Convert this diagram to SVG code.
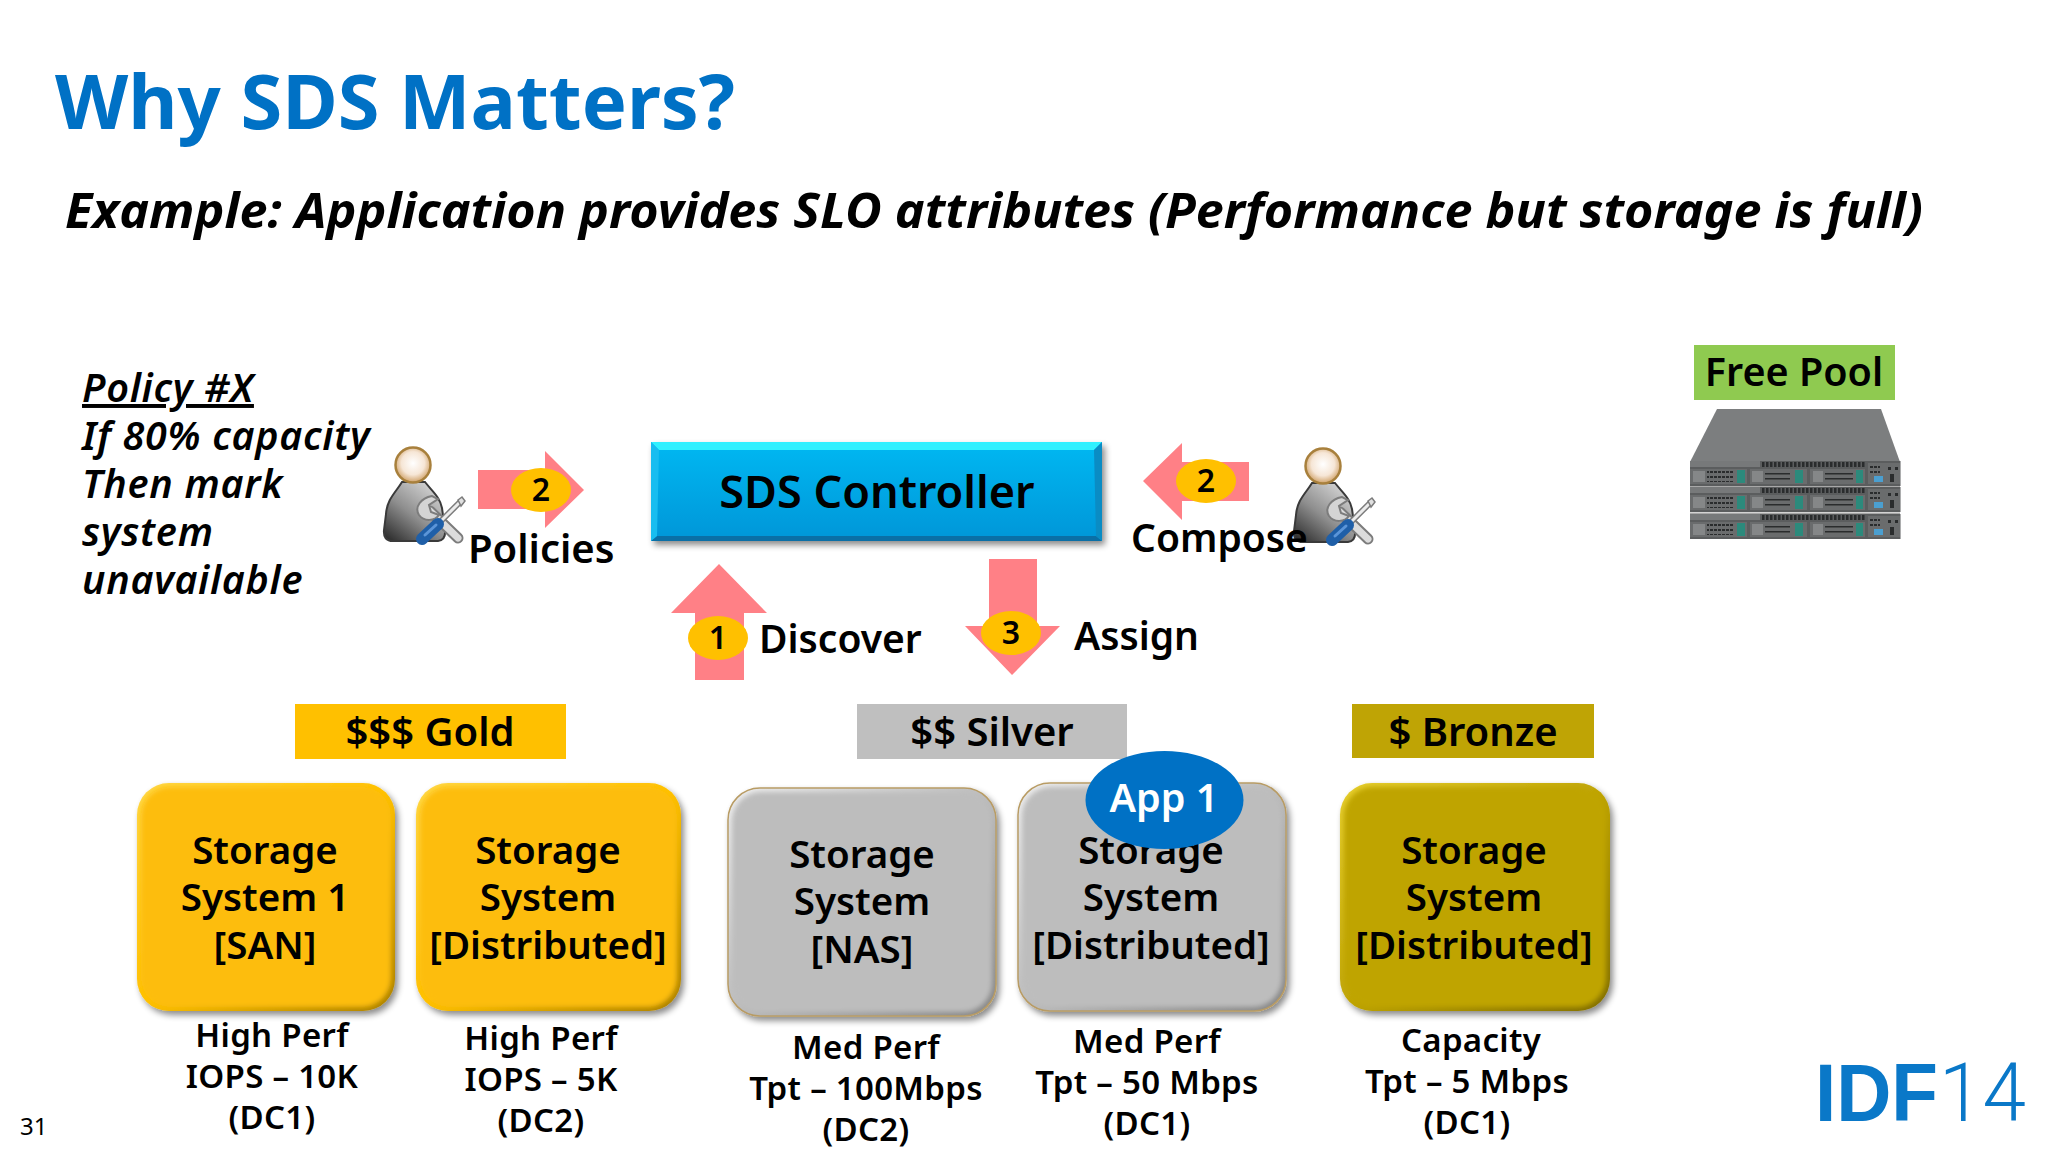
<svg xmlns="http://www.w3.org/2000/svg" width="2048" height="1152" viewBox="0 0 2048 1152">
<style>
text{font-family:"Noto Sans","Open Sans","Liberation Sans",sans-serif;font-weight:600;fill:#000}
.m{text-anchor:middle}
.lbl{font-size:39px}
.tier{font-size:40px;text-anchor:middle}
.box{font-size:38.500px;text-anchor:middle}
.sub{font-size:33px;letter-spacing:.3px;text-anchor:middle}
.pol{font-size:39.500px;letter-spacing:.7px;font-style:italic}
.bd{font-size:32px;text-anchor:middle}
.arrow{fill:#ff8086}
.badge{fill:#ffc000}
</style>
<defs>
<filter id="sh" x="-10%" y="-10%" width="125%" height="125%"><feDropShadow dx="3" dy="4" stdDeviation="3" flood-color="#000" flood-opacity=".45"/></filter>
<filter id="bl" x="-5%" y="-5%" width="110%" height="110%"><feGaussianBlur stdDeviation="2.5"/></filter>
<linearGradient id="gGold" x1="0" y1="0" x2="1" y2="1"><stop offset="0" stop-color="#ffd84a"/><stop offset=".5" stop-color="#ffc000"/><stop offset="1" stop-color="#a87e00"/></linearGradient>
<linearGradient id="gGrey" x1="0" y1="0" x2="1" y2="1"><stop offset="0" stop-color="#efefef"/><stop offset=".5" stop-color="#bcbcbc"/><stop offset="1" stop-color="#858585"/></linearGradient>
<linearGradient id="gBronze" x1="0" y1="0" x2="1" y2="1"><stop offset="0" stop-color="#e8d030"/><stop offset=".5" stop-color="#bfa405"/><stop offset="1" stop-color="#7f6c00"/></linearGradient>
<linearGradient id="gSds" x1="0" y1="0" x2="0" y2="1"><stop offset="0" stop-color="#00b8f2"/><stop offset="1" stop-color="#0096d8"/></linearGradient>
<radialGradient id="gHead" cx=".5" cy=".45" r=".55"><stop offset="0" stop-color="#fff"/><stop offset=".6" stop-color="#f6e6d6"/><stop offset="1" stop-color="#cfa066"/></radialGradient>
<linearGradient id="gBody" x1=".9" y1="0" x2=".1" y2="1"><stop offset="0" stop-color="#e0e0e0"/><stop offset=".55" stop-color="#8e8e8e"/><stop offset="1" stop-color="#2e2e2e"/></linearGradient>
<pattern id="vent" width="4" height="4" patternUnits="userSpaceOnUse"><rect width="2.500" height="4" fill="#2a2c2d"/></pattern>
<pattern id="grid" width="4" height="5" patternUnits="userSpaceOnUse"><rect width="3" height="2" fill="#2a2c2d"/></pattern>
<g id="person">
<path d="M402 482C396 492 387 499 386 514L384 530Q383 541 393 541L438 541Q446 540 445 530L442 508C440 497 432 491 425 482Z" fill="url(#gBody)" stroke="#fff" stroke-width="5"/>
<path d="M402 482C396 492 387 499 386 514L384 530Q383 541 393 541L438 541Q446 540 445 530L442 508C440 497 432 491 425 482Z" fill="url(#gBody)" stroke="#3a3a3a" stroke-width="2"/>
<ellipse cx="413" cy="465" rx="17.500" ry="17.500" fill="url(#gHead)" stroke="#a8803c" stroke-width="2.500"/>
<path d="M430 511L458 538" stroke="#7c7c7c" stroke-width="11" stroke-linecap="round" fill="none"/>
<path d="M430 511L458 538" stroke="#dcdcdc" stroke-width="7" stroke-linecap="round" fill="none"/>
<path d="M432 496C421 498 414 507 419 515C424 522 435 521 439 515L431 512L429 505L438 499Z" fill="#d4d4d4" stroke="#7c7c7c" stroke-width="2"/>
<path d="M460 502L440 522" stroke="#7c7c7c" stroke-width="6" fill="none"/>
<path d="M460 502L440 522" stroke="#ececec" stroke-width="3" fill="none"/>
<path d="M458 500L462 497L465 501L461 506Z" fill="#e0e0e0" stroke="#7c7c7c" stroke-width="1.500"/>
<path d="M438 524L422 539" stroke="#1f5fa8" stroke-width="12" stroke-linecap="round" fill="none"/>
<path d="M436 525L425 535" stroke="#5b95d8" stroke-width="3" stroke-linecap="round" fill="none"/>
</g>
<g id="unit">
<rect x="0" y="0" width="210.500" height="25" fill="#5b5d5e"/>
<rect x="0" y="0" width="70" height="6" fill="#77797a"/>
<rect x="72" y="1" width="103" height="5" fill="url(#vent)"/>
<rect x="0" y="8" width="57" height="15" fill="#6a6c6d"/>
<rect x="3" y="10" width="12" height="11" fill="#858788"/>
<rect x="17" y="10" width="26" height="11" fill="url(#grid)"/>
<rect x="47" y="9" width="8" height="13" fill="#2c8a7c"/>
<rect x="60" y="8" width="57" height="15" fill="#6a6c6d"/>
<rect x="62" y="10" width="11" height="11" fill="#858788"/>
<rect x="75" y="12" width="25" height="1.500" fill="#2a2c2d"/><rect x="75" y="17" width="25" height="1.500" fill="#2a2c2d"/>
<rect x="105" y="9" width="8" height="13" fill="#2c8a7c"/>
<rect x="120" y="8" width="55" height="15" fill="#6a6c6d"/>
<rect x="123" y="10" width="10" height="11" fill="#858788"/>
<rect x="135" y="12" width="28" height="1.500" fill="#2a2c2d"/><rect x="135" y="17" width="28" height="1.500" fill="#2a2c2d"/>
<rect x="166" y="9" width="7" height="13" fill="#2c8a7c"/>
<rect x="178" y="2" width="32" height="21" fill="#6a6c6d"/>
<rect x="180" y="4" width="10" height="8" fill="url(#grid)"/>
<rect x="184" y="15" width="9" height="6" fill="#4b9fd0"/>
<rect x="198" y="6" width="3" height="3" fill="#2a2c2d"/><rect x="205" y="6" width="3" height="3" fill="#2a2c2d"/><rect x="200" y="13" width="4" height="8" fill="#2a2c2d"/>
</g>
</defs>
<rect width="2048" height="1152" fill="#fff"/>

<g id="header">
<text x="55" y="129" textLength="680" lengthAdjust="spacingAndGlyphs" style="font-size:76px;font-weight:700;fill:#0071c5">Why SDS Matters?</text>
<text x="65" y="228" textLength="1858" lengthAdjust="spacingAndGlyphs" style="font-size:48.500px;font-weight:700;font-style:italic">Example: Application provides SLO attributes (Performance but storage is full)</text>
</g>

<g id="policy">
<text class="pol" x="82" y="402"><tspan text-decoration="underline">Policy #X</tspan><tspan x="82" dy="48">If 80% capacity</tspan><tspan x="82" dy="48">Then mark</tspan><tspan x="82" dy="48">system</tspan><tspan x="82" dy="48">unavailable</tspan></text>
</g>

<g id="connectors">
<polygon class="arrow" points="478,470 545,470 545,451 584,490 545,528 545,509 478,509"/>
<polygon class="arrow" points="1249,462 1182,462 1182,443 1143,481 1182,520 1182,501 1249,501"/>
<polygon class="arrow" points="719,564 767,613 744,613 744,680 695,680 695,613 671,613"/>
<polygon class="arrow" points="989,559 1037,559 1037,626 1060,626 1012,675 965,626 989,626"/>
</g>

<g id="admin-left"><use href="#person"/></g>
<g id="admin-right"><use href="#person" x="910" y="1"/></g>

<g id="badge-policies"><ellipse class="badge" cx="541" cy="490" rx="30" ry="22"/><text class="bd" x="541" y="501">2</text></g>
<g id="badge-compose"><ellipse class="badge" cx="1206" cy="481" rx="30" ry="22"/><text class="bd" x="1206" y="492">2</text></g>
<g id="badge-discover"><ellipse class="badge" cx="718" cy="638" rx="30" ry="22"/><text class="bd" x="718" y="649">1</text></g>
<g id="badge-assign"><ellipse class="badge" cx="1011" cy="633" rx="30" ry="22"/><text class="bd" x="1011" y="644">3</text></g>

<g id="labels">
<text x="468" y="563" style="font-size:40px">Policies</text>
<text class="lbl" x="1131" y="552">Compose</text>
<text class="lbl" x="759" y="653">Discover</text>
<text class="lbl" x="1074" y="650">Assign</text>
</g>

<g id="sds-controller">
<rect x="651" y="442" width="451" height="99" fill="url(#gSds)" filter="url(#sh)"/>
<polygon points="651,442 1102,442 1094,450 659,450" fill="#30f0ff"/>
<polygon points="651,541 1102,541 1096,536 657,536" fill="#0a6fa6"/>
<polygon points="651,442 659,450 657,536 651,541" fill="#18bdf0"/>
<polygon points="1102,442 1094,450 1096,536 1102,541" fill="#0a8cc4"/>
<text class="m" x="877" y="508" style="font-size:45px">SDS Controller</text>
</g>

<g id="free-pool">
<rect x="1694" y="345" width="201" height="55" fill="#8fca50"/>
<text class="m" x="1794" y="386" style="font-size:39.500px">Free Pool</text>
<polygon points="1717,409 1881,409 1900,462 1690,462" fill="#7c7e7f"/>
<use href="#unit" x="1690" y="461"/>
<rect x="1690" y="486" width="210" height="1.500" fill="#a8a8a8"/>
<use href="#unit" x="1690" y="487"/>
<rect x="1690" y="512.500" width="210" height="1.500" fill="#a8a8a8"/>
<use href="#unit" x="1690" y="514"/>
</g>

<g id="tier-gold"><rect x="295" y="704" width="271" height="55" fill="#ffc000"/><text class="tier" x="430" y="746">$$$ Gold</text></g>
<g id="tier-silver"><rect x="857" y="704" width="270" height="55" fill="#bfbfbf"/><text class="tier" x="992" y="746">$$ Silver</text></g>
<g id="tier-bronze"><rect x="1352" y="704" width="242" height="54" fill="#bfa405"/><text class="tier" x="1473" y="746">$ Bronze</text></g>

<g id="storage-san">
<rect x="137" y="783" width="258" height="228" rx="32" fill="url(#gGold)" filter="url(#sh)"/>
<rect x="141" y="787" width="250" height="220" rx="29" fill="#fdbd0a" filter="url(#bl)"/>
<text class="box" x="265" y="864"><tspan x="265">Storage</tspan><tspan x="265" dy="47">System 1</tspan><tspan x="265" dy="48">[SAN]</tspan></text>
<text class="sub" y="1047"><tspan x="272">High Perf</tspan><tspan x="272" dy="41">IOPS – 10K</tspan><tspan x="272" dy="41">(DC1)</tspan></text>
</g>
<g id="storage-dist-gold">
<rect x="416" y="783" width="265" height="228" rx="32" fill="url(#gGold)" filter="url(#sh)"/>
<rect x="420" y="787" width="257" height="220" rx="29" fill="#fdbd0a" filter="url(#bl)"/>
<text class="box" y="864"><tspan x="548">Storage</tspan><tspan x="548" dy="47">System</tspan><tspan x="548" dy="48">[Distributed]</tspan></text>
<text class="sub" y="1050"><tspan x="541">High Perf</tspan><tspan x="541" dy="41">IOPS – 5K</tspan><tspan x="541" dy="41">(DC2)</tspan></text>
</g>
<g id="storage-nas">
<rect x="728" y="788" width="268" height="228" rx="32" fill="url(#gGrey)" stroke="#b89a60" stroke-width="1.500" filter="url(#sh)"/>
<rect x="732" y="792" width="260" height="220" rx="29" fill="#bdbdbd" filter="url(#bl)"/>
<text class="box" y="868"><tspan x="862">Storage</tspan><tspan x="862" dy="47">System</tspan><tspan x="862" dy="48">[NAS]</tspan></text>
<text class="sub" y="1059"><tspan x="866">Med Perf</tspan><tspan x="866" dy="41">Tpt – 100Mbps</tspan><tspan x="866" dy="41">(DC2)</tspan></text>
</g>
<g id="storage-dist-silver">
<rect x="1018" y="783" width="268" height="228" rx="32" fill="url(#gGrey)" stroke="#b89a60" stroke-width="1.500" filter="url(#sh)"/>
<rect x="1022" y="787" width="260" height="220" rx="29" fill="#bdbdbd" filter="url(#bl)"/>
<text class="box" y="864"><tspan x="1151">Storage</tspan><tspan x="1151" dy="47">System</tspan><tspan x="1151" dy="48">[Distributed]</tspan></text>
<text class="sub" y="1053"><tspan x="1147">Med Perf</tspan><tspan x="1147" dy="41">Tpt – 50 Mbps</tspan><tspan x="1147" dy="41">(DC1)</tspan></text>
</g>
<g id="storage-dist-bronze">
<rect x="1340" y="783" width="270" height="228" rx="32" fill="url(#gBronze)" filter="url(#sh)"/>
<rect x="1344" y="787" width="262" height="220" rx="29" fill="#bfa405" filter="url(#bl)"/>
<text class="box" y="864"><tspan x="1474">Storage</tspan><tspan x="1474" dy="47">System</tspan><tspan x="1474" dy="48">[Distributed]</tspan></text>
<text class="sub" y="1052"><tspan x="1471">Capacity</tspan><tspan x="1467" dy="41">Tpt – 5 Mbps</tspan><tspan x="1467" dy="41">(DC1)</tspan></text>
</g>
<g id="app-1">
<ellipse cx="1164.500" cy="800" rx="79" ry="49" fill="#0071c5"/>
<text class="m" x="1164" y="812" style="font-size:39.500px;fill:#fff">App 1</text>
</g>

<g id="footer">
<text x="20" y="1135" style="font-size:24px;font-weight:400">31</text>
<text x="1815" y="1121" textLength="123" lengthAdjust="spacingAndGlyphs" style="font-family:'Liberation Sans',sans-serif;font-size:82px;font-weight:700;fill:#0a78c8">IDF</text>
<text x="1939" y="1121" textLength="87" lengthAdjust="spacingAndGlyphs" style="font-family:Roboto,sans-serif;font-size:82px;font-weight:300;fill:#0a78c8">14</text>
</g>
</svg>
